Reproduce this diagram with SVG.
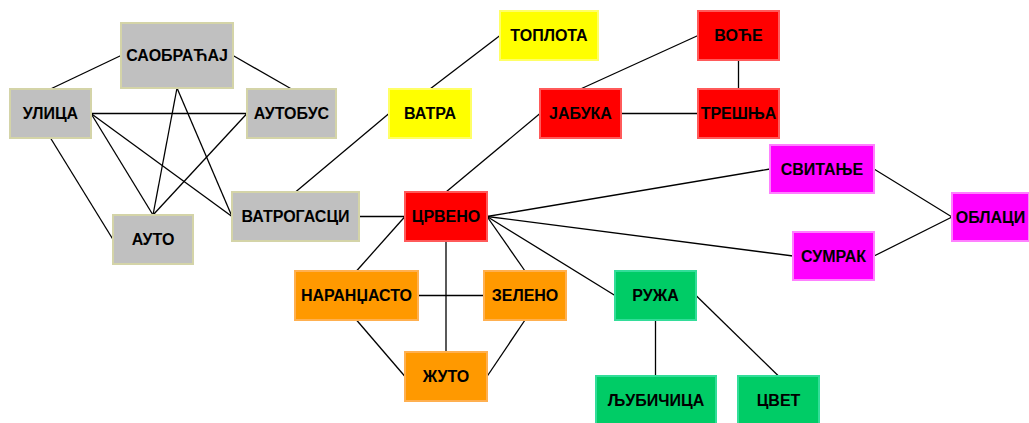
<svg xmlns="http://www.w3.org/2000/svg" width="1029" height="423" viewBox="0 0 1029 423">
<style>
.n rect{stroke-width:2}
.n text{font-family:"Liberation Sans",Arial,sans-serif;font-weight:bold;font-size:16px;fill:#000;text-anchor:middle;dominant-baseline:central}
.g rect{fill:#c0c0c0;stroke:#d4d4a8}
.r rect{fill:#ff0000;stroke:#ff5a5a}
.y rect{fill:#ffff00;stroke:#ffff66}
.m rect{fill:#ff00ff;stroke:#ff80ff}
.o rect{fill:#ff9900;stroke:#ffb050}
.e rect{fill:#00cc66;stroke:#33dd99}
#connectors line{stroke:#000;stroke-width:1.3}
</style>
<rect width="1029" height="423" fill="#fff"/>
<g id="connectors">
<line x1="121" y1="55.5" x2="50.5" y2="89"/>
<line x1="233" y1="55.5" x2="291.5" y2="89"/>
<line x1="177" y1="88" x2="153" y2="215"/>
<line x1="177" y1="88" x2="232" y2="216.5"/>
<line x1="91" y1="113.5" x2="247" y2="113.5"/>
<line x1="91" y1="113.5" x2="153" y2="215"/>
<line x1="91" y1="113.5" x2="232" y2="216.5"/>
<line x1="50.5" y1="138" x2="113" y2="239.5"/>
<line x1="247" y1="113.5" x2="153" y2="215"/>
<line x1="295.5" y1="192" x2="389" y2="113.5"/>
<line x1="359" y1="216.5" x2="405" y2="216.5"/>
<line x1="430" y1="89" x2="500" y2="35.5"/>
<line x1="446" y1="192" x2="540" y2="113.5"/>
<line x1="580.5" y1="89" x2="698" y2="35.5"/>
<line x1="738.5" y1="60" x2="738.5" y2="89"/>
<line x1="621" y1="113.5" x2="698" y2="113.5"/>
<line x1="487" y1="216.5" x2="770" y2="169"/>
<line x1="487" y1="216.5" x2="793" y2="256"/>
<line x1="487" y1="216.5" x2="615" y2="295.5"/>
<line x1="487" y1="216.5" x2="525" y2="271"/>
<line x1="405" y1="216.5" x2="356.5" y2="271"/>
<line x1="446" y1="241" x2="446" y2="352"/>
<line x1="418" y1="295.5" x2="484" y2="295.5"/>
<line x1="356.5" y1="320" x2="405" y2="376.5"/>
<line x1="525" y1="320" x2="487" y2="376.5"/>
<line x1="874" y1="169" x2="952" y2="217"/>
<line x1="874" y1="256" x2="952" y2="217"/>
<line x1="655.5" y1="320" x2="655.5" y2="376"/>
<line x1="696" y1="295.5" x2="778.5" y2="376"/>
</g>
<g id="saobracaj" class="n g"><rect x="121" y="23" width="112" height="65"/><text x="177" y="55.5">САОБРАЋАЈ</text></g>
<g id="ulica" class="n g"><rect x="10" y="89" width="81" height="49"/><text x="50.5" y="113.5">УЛИЦА</text></g>
<g id="autobus" class="n g"><rect x="247" y="89" width="89" height="49"/><text x="291.5" y="113.5">АУТОБУС</text></g>
<g id="auto" class="n g"><rect x="113" y="215" width="80" height="49"/><text x="153" y="239.5">АУТО</text></g>
<g id="vatrogasci" class="n g"><rect x="232" y="192" width="127" height="49"/><text x="295.5" y="216.5">ВАТРОГАСЦИ</text></g>
<g id="vatra" class="n y"><rect x="389" y="89" width="82" height="49"/><text x="430" y="113.5">ВАТРА</text></g>
<g id="toplota" class="n y"><rect x="500" y="11" width="98" height="49"/><text x="549" y="35.5">ТОПЛОТА</text></g>
<g id="crveno" class="n r"><rect x="405" y="192" width="82" height="49"/><text x="446" y="216.5">ЦРВЕНО</text></g>
<g id="jabuka" class="n r"><rect x="540" y="89" width="81" height="49"/><text x="580.5" y="113.5">ЈАБУКА</text></g>
<g id="voce" class="n r"><rect x="698" y="11" width="81" height="49"/><text x="738.5" y="35.5">ВОЋЕ</text></g>
<g id="tresnja" class="n r"><rect x="698" y="89" width="81" height="49"/><text x="738.5" y="113.5">ТРЕШЊА</text></g>
<g id="svitanje" class="n m"><rect x="770" y="145" width="104" height="48"/><text x="822" y="169">СВИТАЊЕ</text></g>
<g id="sumrak" class="n m"><rect x="793" y="232" width="81" height="48"/><text x="833.5" y="256">СУМРАК</text></g>
<g id="oblaci" class="n m"><rect x="952" y="193" width="77" height="48"/><text x="990.5" y="217">ОБЛАЦИ</text></g>
<g id="narandzasto" class="n o"><rect x="295" y="271" width="123" height="49"/><text x="356.5" y="295.5">НАРАНЏАСТО</text></g>
<g id="zeleno" class="n o"><rect x="484" y="271" width="82" height="49"/><text x="525" y="295.5">ЗЕЛЕНО</text></g>
<g id="zuto" class="n o"><rect x="405" y="352" width="82" height="49"/><text x="446" y="376.5">ЖУТО</text></g>
<g id="ruza" class="n e"><rect x="615" y="271" width="81" height="49"/><text x="655.5" y="295.5">РУЖА</text></g>
<g id="ljubicica" class="n e"><rect x="596" y="376" width="120" height="49"/><text x="656" y="400.5">ЉУБИЧИЦА</text></g>
<g id="cvet" class="n e"><rect x="738" y="376" width="81" height="49"/><text x="778.5" y="400.5">ЦВЕТ</text></g>
</svg>
